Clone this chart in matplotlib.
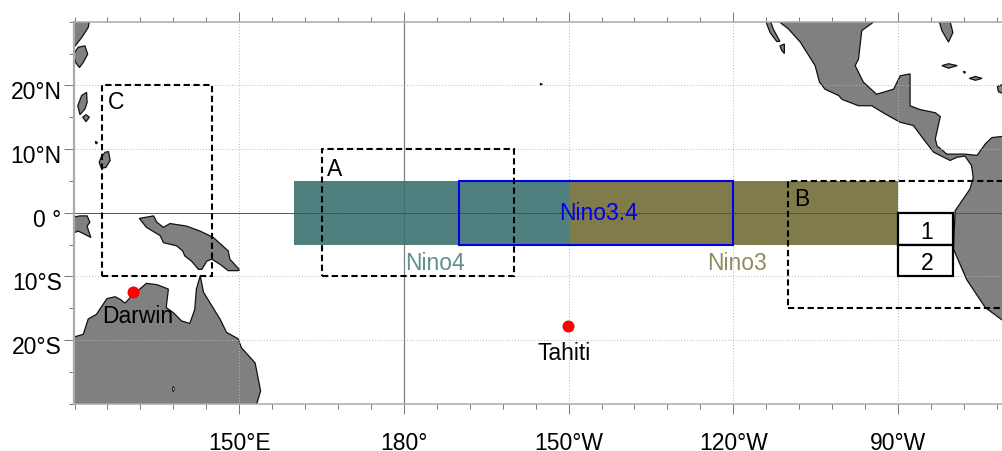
#!/usr/bin/env python3
import matplotlib
matplotlib.use("Agg")
import matplotlib.pyplot as plt
from matplotlib.patches import Polygon, Rectangle
from matplotlib.transforms import ScaledTranslation

plt.rcParams["font.family"] = ["Liberation Sans", "DejaVu Sans"]

# coastlines, lon in degrees east
china_lon = [119, 122.9, 122.5, 121.3, 119]
china_lat = [31, 31, 29.1, 27.5, 25.0]
taiwan_lon = [119.8, 120.7, 121.9, 122.4, 121.6, 120.9, 120.2]
taiwan_lat = [24.9, 26.0, 26.2, 24.9, 23.6, 22.8, 23.6]
luzon_lon = [121.3, 122.2, 122.3, 121.9, 121.0, 120.6]
luzon_lat = [18.4, 18.9, 17.3, 16.3, 15.4, 16.8]
isle1_lon = [122.1, 122.7, 122.1, 121.5]
isle1_lat = [15.4, 15.0, 14.3, 15.0]
isle2_lon = [123.8, 124.2, 123.9]
isle2_lat = [11.2, 11.0, 10.8]
mindanao_lon = [125.6, 126.2, 126.5, 125.7, 124.9, 124.5, 124.9]
mindanao_lat = [9.5, 9.6, 8.2, 7.1, 7.0, 7.9, 8.8]
sulawesi_lon = [119, 121, 122.3, 122.8, 122.3, 122.5, 123, 121.9, 120.7, 119]
sulawesi_lat = [-0.8, -0.5, -0.5, -1.5, -2.1, -2.7, -3.9, -3.4, -2.9, -3.4]
guinea_lon = [131.8, 134.4, 135.0, 136.2, 137.4, 140.4, 142.9, 145.3, 148.0, 148.3, 150.1, 149.8,
              148.0, 146.5, 145.0, 144.1, 143.2, 142.6, 141.3, 140.1, 139.7, 138.6, 136.2, 135.6, 133.1, 131.9]
guinea_lat = [-0.9, -0.5, -1.5, -2.3, -1.7, -2.1, -2.9, -3.9, -6.0, -7.3, -9.0, -9.1,
              -9.1, -8.1, -7.3, -7.6, -8.9, -8.9, -7.6, -6.8, -6.0, -5.2, -4.7, -3.6, -2.3, -1.0]
australia_lon = [119, 120, 121.6, 122.5, 124, 125.9, 127.4, 128.3, 129.2, 130.4, 133.1, 135, 137.1, 136.7,
                 138, 139.5, 141, 141.9, 142.2, 142.9, 143.5, 145, 146.5, 147.7, 149.8, 150.4, 152.9, 153.9,
                 153.2, 153, 119]
australia_lat = [-19.8, -19.5, -19.1, -16.7, -15.96, -13.5, -13.2, -13.6, -14.2, -13.1, -11.1, -11.3, -12, -14.9,
                 -15.7, -17, -17.4, -15.2, -12, -9.9, -12.5, -14.6, -16.7, -18.8, -19.8, -21.2, -23.6, -28,
                 -30, -31, -31]
lake_lon = [137.8, 138.0, 138.2, 138.0]
lake_lat = [-27.7, -27.3, -27.7, -28.1]
hawaii_lon = [204.8, 205.2, 205.0]
hawaii_lat = [20.3, 20.2, 20.0]
baja_lon = [245.5, 246.4, 247.3, 248.5, 247.9, 246.7]
baja_lat = [31, 31, 28.8, 26.9, 26.9, 28.3]
baja2_lon = [248.5, 249.3, 249.3, 248.8]
baja2_lat = [26.2, 26.5, 25, 25.5]
america_lon = [248.2, 250.0, 252.2, 254.9, 255.7, 256.7, 259.2, 259.8, 262.8, 265.2, 267.7, 270.4, 272.8, 274.6,
               276.5, 279.5, 280.7, 282.2, 283.4, 283.7, 283.1, 280.4, 280.1, 282.5, 285.9, 289.2, 292,
               292, 291, 289.2, 287.1, 285.9, 284.4, 282.2, 278.9, 277.1, 276.8, 277.7, 276.8, 274, 272.2, 272.2,
               270.4, 269.2, 266.1, 263.7, 262.2, 262.8, 263.4, 265.8, 265.8, 248.2]
america_lat = [30.1, 28.9, 26.8, 23.1, 20.5, 19.4, 18.4, 17.8, 16.8, 16.8, 15.5, 14.2, 13.7, 11.6,
               9.5, 8.2, 8.7, 8.9, 7.4, 5.5, 3.7, 0.3, -5.7, -10.5, -14.9, -17, -19,
               12, 12, 12.0, 11.8, 10.8, 9.0, 9.2, 9.2, 10.5, 11.6, 15.1, 15.7, 16.2, 16.8, 21.8,
               21.5, 19.4, 18.6, 20.5, 23.1, 24.1, 28.6, 30.1, 31, 31]
florida_lon = [277.2, 279.2, 280, 279.2, 278]
florida_lat = [31, 31, 28.3, 26.8, 28.6]
cuba_lon = [278, 279.2, 280.8, 279.2]
cuba_lat = [23.1, 23.4, 23.1, 22.7]
bahama_lon = [281.9, 282.3, 282.1]
bahama_lat = [22.2, 22.1, 21.9]
hisp_lon = [283, 284.1, 285.3, 284.1]
hisp_lat = [21.1, 21.4, 21.1, 20.8]
pr_lon = [292, 289.2, 288.1, 288.3, 289.2, 292]
pr_lat = [20.3, 20.2, 19.8, 19, 18.7, 18.5]

lands = [(china_lon, china_lat), (taiwan_lon, taiwan_lat), (luzon_lon, luzon_lat), (isle1_lon, isle1_lat),
         (isle2_lon, isle2_lat), (mindanao_lon, mindanao_lat), (sulawesi_lon, sulawesi_lat),
         (guinea_lon, guinea_lat), (australia_lon, australia_lat), (hawaii_lon, hawaii_lat),
         (baja_lon, baja_lat), (baja2_lon, baja2_lat), (america_lon, america_lat), (florida_lon, florida_lat),
         (cuba_lon, cuba_lat), (bahama_lon, bahama_lat), (hisp_lon, hisp_lat), (pr_lon, pr_lat)]

# regions: lon west, lon east, lat south, lat north
nino4 = [160, 210, -5, 5]
nino3 = [210, 270, -5, 5]
nino34 = [190, 240, -5, 5]
box_a = [165, 200, -10, 10]
box_b = [250, 295, -15, 5]
box_c = [125, 145, -10, 20]
nino1 = [270, 280, -5, 0]
nino2 = [270, 280, -10, -5]

station_lon = [130.7, 209.9]
station_lat = [-12.4, -17.85]

lon_major = [150, 180, 210, 240, 270]
lon_labels = ["150°E", "180°", "150°W", "120°W", "90°W"]
lon_minor = [120, 126, 132, 138, 144, 156, 162, 168, 174, 186, 192, 198, 204, 216, 222, 228, 234, 246, 252, 258, 264, 276, 282, 288]
lat_major = [20, 10, 0, -10, -20]
lat_labels = ["20°N", "10°N", "0 °", "10°S", "20°S"]
lat_minor = [30, 25, 15, 5, -5, -15, -25, -30]


def rect(ax, box, **kw):
    ax.add_patch(Rectangle((box[0], box[2]), box[1] - box[0], box[3] - box[2], **kw))


fig = plt.figure(figsize=(10.03, 4.52), dpi=100)
ax = fig.add_axes([74.5 / 1003, 1 - 404.7 / 452, (1003 - 74.5) / 1003, 382 / 452])
ax.set_xlim(120, 120 + 928.5 / 5.49)
ax.set_ylim(-30, 30)

for lon, lat in lands:
    ax.add_patch(Polygon(list(zip(lon, lat)), closed=True, facecolor="#808080", edgecolor="#111111", lw=0.9, zorder=1))
ax.add_patch(Polygon(list(zip(lake_lon, lake_lat)), closed=True, facecolor="white", edgecolor="black", lw=0.6, zorder=1.1))

# dotted graticule
for x in [150, 210, 240, 270]:
    ax.axvline(x, color="#b5b5b5", lw=0.7, ls=(0, (1, 2)), zorder=1.5)
for y in [20, 10, -10, -20]:
    ax.axhline(y, color="#b5b5b5", lw=0.7, ls=(0, (1, 2)), zorder=1.5)

ax.axhline(0, color="#555555", lw=0.7, zorder=1.6)
ax.axvline(180, color="#808080", lw=0.9, zorder=1.6)

# fills are slightly see-through, the solid lines show under them
rect(ax, nino4, facecolor="#366e6d", edgecolor="none", alpha=0.88, zorder=2)
rect(ax, nino3, facecolor="#6e6932", edgecolor="none", alpha=0.88, zorder=2)
ax.plot([nino4[0], nino3[1]], [0, 0], color="#333333", lw=0.7, ls=(0, (1, 2)), zorder=2.5)

rect(ax, nino34, facecolor="none", edgecolor="#0000ee", lw=1.5, zorder=4)
for box in [box_a, box_b, box_c]:
    rect(ax, box, facecolor="none", edgecolor="black", lw=1.5, ls=(0, (3, 1.7)), zorder=5)
for box in [nino1, nino2]:
    rect(ax, box, facecolor="white", edgecolor="black", lw=1.6, zorder=5)

ax.scatter(station_lon, station_lat, s=75, color="#ff0000", linewidths=0, zorder=6)

fs = 16.5
ax.text(166, 6.9, "A", fontsize=fs, va="center", zorder=7)
ax.text(251.1, 2.3, "B", fontsize=fs, va="center", zorder=7)
ax.text(126.1, 17.4, "C", fontsize=fs, va="center", zorder=7)
ax.text(275.3, -2.9, "1", fontsize=fs, ha="center", va="center", zorder=7)
ax.text(275.3, -7.8, "2", fontsize=fs, ha="center", va="center", zorder=7)
ax.text(215.4, 0, "Nino3.4", fontsize=fs, color="#0000ee", ha="center", va="center", zorder=7)
ax.text(185.7, -7.8, "Nino4", fontsize=fs, color="#5f8f8e", ha="center", va="center", zorder=7)
ax.text(240.7, -7.8, "Nino3", fontsize=fs, color="#8f8c60", ha="center", va="center", zorder=7)
ax.text(131.6, -16.2, "Darwin", fontsize=fs, ha="center", va="center", zorder=7)
ax.text(209.1, -22.0, "Tahiti", fontsize=fs, ha="center", va="center", zorder=7)

ax.set_xticks(lon_major)
ax.set_xticklabels(lon_labels, fontsize=fs)
ax.set_xticks(lon_minor, minor=True)
ax.set_yticks(lat_major)
ax.set_yticklabels(lat_labels, fontsize=fs)
ax.set_yticks(lat_minor, minor=True)
ax.tick_params(axis="both", which="major", length=7.2, width=0.7, color="#777777")
ax.tick_params(axis="both", which="minor", length=3.6, width=0.7, color="#777777")
ax.tick_params(axis="x", which="both", top=True)
ax.tick_params(axis="x", which="major", pad=12.5)
ax.tick_params(axis="y", which="major", pad=2)

# latitude labels sit a little below their ticks
shift = ScaledTranslation(0, -4 / 100, fig.dpi_scale_trans)
for lbl in ax.get_yticklabels():
    lbl.set_transform(lbl.get_transform() + shift)

ax.spines["right"].set_visible(False)
for side in ["top", "bottom", "left"]:
    ax.spines[side].set_color("#aaaaaa")
    ax.spines[side].set_linewidth(1.1)
ax.spines["left"].set_linewidth(1.6)

fig.savefig("out.png", dpi=100)
